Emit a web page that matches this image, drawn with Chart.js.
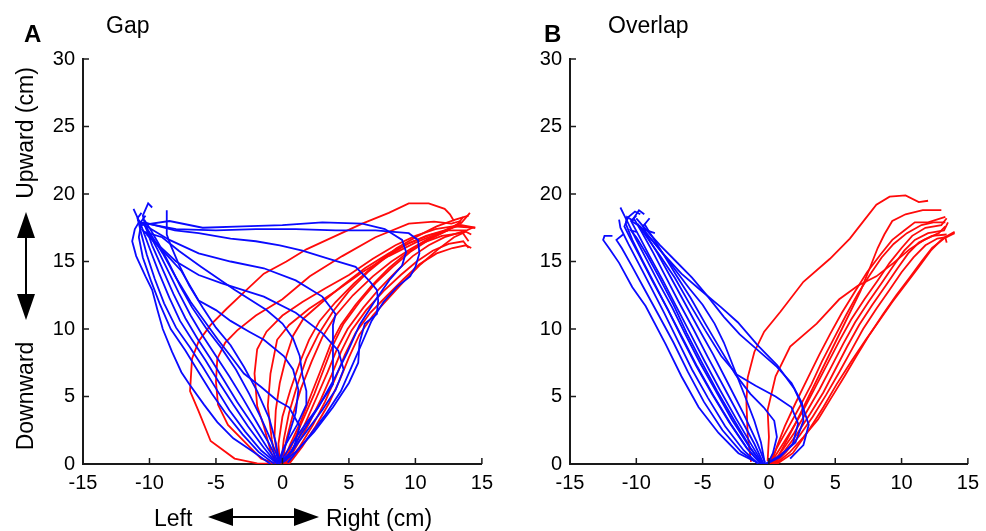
<!DOCTYPE html>
<html>
<head>
<meta charset="utf-8">
<script src="https://cdn.jsdelivr.net/npm/chart.js@4"></script>
<style>
  html, body { margin: 0; padding: 0; background: #fff; }
  #wrap { position: relative; width: 986px; height: 531px; overflow: hidden; }
  canvas { position: absolute; top: 0; }
  #gapCanvas { left: 0; }
  #overlapCanvas { left: 490px; }
  svg { position: absolute; left: 0; top: 0; pointer-events: none; }
  svg text { font-family: "Liberation Sans", Arial, sans-serif; fill: #000; }
</style>
</head>
<body>
<div id="wrap">
  <canvas id="gapCanvas" width="500" height="531"></canvas>
  <canvas id="overlapCanvas" width="496" height="531"></canvas>
  <svg width="986" height="531">
    <text x="24" y="42" font-size="24" font-weight="bold">A</text>
    <text x="106" y="33" font-size="23">Gap</text>
    <text x="544" y="42" font-size="24" font-weight="bold">B</text>
    <text x="608" y="33" font-size="23">Overlap</text>
    <text transform="translate(33,133) rotate(-90)" text-anchor="middle" font-size="23">Upward (cm)</text>
    <text transform="translate(33,396) rotate(-90)" text-anchor="middle" font-size="23">Downward</text>
    <line x1="26" y1="230" x2="26" y2="302" stroke="#000" stroke-width="2"/>
    <polygon points="26,212 17,238 35,238" fill="#000"/>
    <polygon points="26,320 17,294 35,294" fill="#000"/>
    <text x="154" y="526" font-size="23">Left</text>
    <line x1="225" y1="517" x2="303" y2="517" stroke="#000" stroke-width="2"/>
    <polygon points="208,517 233,508 233,526" fill="#000"/>
    <polygon points="319,517 294,508 294,526" fill="#000"/>
    <text x="326" y="526" font-size="23">Right (cm)</text>
  </svg>
</div>
<script>
// axis ticks
var xTickValues = [-15, -10, -5, 0, 5, 10, 15];
var yTickValues = [0, 5, 10, 15, 20, 25, 30];

// Gap condition, movements to the left target (blue)
var gapLeftTraces = [
  [[-0.9,0],[-2.2,0.9],[-3.7,1.9],[-4.9,3.1],[-5.9,4.4],[-7.0,5.9],[-7.6,6.8],[-8.3,8.3],[-9.0,10],[-9.4,11.4],[-9.8,12.9],[-10.3,13.9],[-11.0,15.4],[-11.3,16.5],[-11.1,17.4],[-10.8,17.9]],
  [[-0.6,0],[-1.8,0.9],[-3.0,2.2],[-4.3,3.8],[-5.3,5.2],[-6.3,6.8],[-7.3,8.4],[-8.4,10],[-9.2,11.8],[-9.9,13.6],[-10.5,15.3],[-10.8,16.8],[-10.6,18.0],[-10.3,18.4]],
  [[-0.5,0.1],[-1.6,1.0],[-2.8,2.4],[-4.0,4.0],[-5.0,5.6],[-6.0,7.2],[-7.0,8.7],[-8.0,10.1],[-8.9,11.9],[-9.6,13.7],[-10.2,15.5],[-10.6,17.0],[-10.9,18.2],[-10.6,18.6]],
  [[-0.4,0],[-1.4,1.2],[-2.6,2.8],[-3.7,4.4],[-4.8,6.1],[-5.8,7.7],[-6.8,9.2],[-7.7,10.6],[-8.5,12.3],[-9.3,14.2],[-10.0,16.0],[-10.6,17.6],[-11.2,18.9]],
  [[-0.3,0],[-1.2,1.3],[-2.3,3.0],[-3.4,4.6],[-4.4,6.2],[-5.4,7.8],[-6.4,9.3],[-7.3,10.8],[-8.2,12.6],[-9.0,14.4],[-9.8,16.2],[-10.3,17.6],[-10.5,18.4],[-10.1,19.3],[-9.8,19.0]],
  [[-0.3,0.1],[-1.0,1.5],[-2.0,3.2],[-3.0,4.9],[-4.0,6.5],[-5.0,8.0],[-6.0,9.5],[-6.9,11.0],[-7.8,12.7],[-8.6,14.3],[-9.4,15.9],[-10.1,17.2],[-10.5,17.9]],
  [[-0.2,0.1],[-0.8,1.6],[-1.6,3.4],[-2.5,5.2],[-3.5,7.0],[-4.6,8.6],[-5.7,10.0],[-6.8,11.6],[-7.7,13.2],[-8.5,14.8],[-9.3,16.3],[-10.0,17.5],[-10.4,18.1]],
  [[-0.2,0],[-0.5,1.6],[-1.0,3.4],[-1.9,5.4],[-2.9,7.2],[-3.9,8.8],[-5.0,10.1],[-6.0,11.6],[-7.0,13.2],[-7.8,14.8],[-8.4,16.2],[-8.7,17.0],[-8.7,18.8]],
  [[-0.2,0.1],[0.8,1.0],[1.3,2.8],[0.5,4.2],[-0.4,4.7],[-1.6,5.7],[-2.9,6.7],[-3.9,8.0],[-4.85,9.2],[-5.8,10.5],[-6.9,12.0],[-8.0,13.8],[-9.0,15.6],[-9.9,17.0],[-10.4,17.8]],
  [[0.2,0.2],[1.4,2.2],[2.7,4.2],[3.9,6.3],[4.9,8.3],[5.8,10.3],[6.9,12.0],[8.1,13.7],[9.0,14.7],[9.3,15.7],[9.0,16.6],[7.7,17.4],[6.0,17.8],[3.0,17.9],[0,17.7],[-3.0,17.6],[-6.0,17.5],[-8.5,18.0],[-10.6,17.7]],
  [[0.4,0.1],[1.8,1.8],[3.2,3.6],[4.4,5.4],[5.2,7.2],[6.0,9.0],[6.7,10.6],[7.6,12.0],[8.6,13.1],[9.6,13.9],[10.0,14.6],[10.3,15.6],[10.2,16.6],[9.5,17.1],[7.0,17.3],[4.0,17.3],[1.0,17.4],[-2.0,17.4],[-5.0,17.3],[-8.0,17.4],[-10.7,17.9]],
  [[0.0,0.1],[1.0,0.9],[2.4,2.4],[3.8,4.2],[5.0,6.0],[5.7,7.5],[5.8,9.0],[6.2,10.4],[7.1,11.1],[7.2,12.1],[7.1,12.9],[6.5,13.6],[5.5,14.6],[3.5,15.2],[1.5,15.8],[-0.2,16.2],[-2.0,16.5],[-3.9,16.7],[-6.3,17.1],[-8.1,17.3],[-10.4,17.9]],
  [[-0.2,0.1],[1.1,2.1],[2.6,4.1],[3.8,5.9],[3.8,7.5],[3.8,9.3],[3.8,10.3],[4.0,11.1],[3.0,12.4],[1.0,13.6],[-1.4,14.5],[-3.9,15.0],[-6.3,15.6],[-8.5,16.6],[-10.2,17.6],[-10.9,18.1]],
  [[-0.1,0.1],[0.6,0.8],[1.8,2.4],[3.0,4.0],[4.0,5.5],[4.6,7.0],[4.2,8.4],[3.0,9.7],[1.0,11.2],[-1.4,12.4],[-4.6,13.4],[-6.3,14.0],[-8.0,15.0],[-9.3,16.2],[-10.6,17.4]],
  [[-0.3,0.2],[0.1,1.2],[1.1,2.9],[1.8,4.4],[1.8,5.4],[1.5,6.6],[1.3,8.0],[0.8,9.3],[0.0,10.4],[-1.2,11.4],[-3.6,12.9],[-6.1,14.6],[-7.8,15.8],[-9.05,16.8],[-10.4,17.2]],
  [[-0.2,0.2],[0.3,1.6],[1.0,3.8],[1.2,5.5],[0.8,7.0],[0.1,8.0],[-1.4,9.2],[-2.5,9.8],[-3.9,10.6],[-5.0,11.4],[-6.3,12.1],[-7.6,14.3],[-9.0,15.8],[-10.2,17.0]]
];

// Gap condition, movements to the right target (red)
var gapRightTraces = [
  [[-0.5,0],[-1.9,0.05],[-3.6,0.4],[-5.4,1.7],[-6.3,3.9],[-6.95,5.4],[-6.8,7.8],[-6.3,9.1],[-5.4,10.3],[-4.2,11.5],[-2.8,12.8],[-1.4,14.1],[0.3,15.0],[1.8,15.9],[4.0,16.9],[6.0,17.8],[8.0,18.6],[9.5,19.3],[11.0,19.3],[12.2,18.9],[12.6,18.5],[12.9,18.0]],
  [[-0.4,0],[-1.6,0.4],[-2.9,1.7],[-4.1,2.9],[-4.85,4.4],[-5.0,6.1],[-4.9,7.8],[-4.3,9.0],[-3.4,9.9],[-2.0,11.0],[0,12.2],[2.06,13.9],[4.5,15.4],[7.0,16.8],[9.5,17.8],[11.4,17.95],[12.7,17.8],[13.4,18.0]],
  [[-0.5,0],[-0.9,1.0],[-1.4,2.8],[-1.9,4.3],[-2.1,6.7],[-1.9,8.5],[-1.2,9.8],[0,11.0],[1.5,12.0],[3.2,13.0],[5.0,14.0],[6.8,15.2],[8.5,16.2],[10.0,16.9],[11.5,17.4],[12.8,17.6],[14.5,17.5]],
  [[-0.5,0],[-0.8,1.8],[-1.1,4.3],[-0.9,6.7],[-0.4,9.2],[0.5,10.3],[2.0,11.5],[4.0,12.8],[6.0,14.2],[8.0,15.4],[10.0,16.4],[12.0,17.2],[13.5,17.9]],
  [[-0.3,0],[-0.6,2.0],[-0.5,4.0],[-0.2,6.0],[0.3,8.0],[0.8,9.5],[1.6,10.8],[3.0,12.0],[4.5,13.2],[6.2,14.5],[8.0,15.6],[9.6,16.4],[11.2,17.0],[12.5,17.3],[13.8,17.3]],
  [[-0.2,0],[-0.3,1.5],[0,3.5],[0.6,5.5],[1.3,7.5],[2.0,9.2],[2.8,10.6],[4.0,12.0],[5.4,13.4],[7.0,14.8],[8.6,16.0],[10.2,16.9],[11.6,17.6],[13.0,18.1],[14.0,18.4]],
  [[0,0],[0.6,1.5],[1.4,3.2],[2.1,5.0],[2.9,7.0],[3.6,8.8],[4.4,10.3],[5.5,11.8],[6.7,13.2],[8.0,14.5],[9.3,15.6],[10.6,16.4],[12.0,16.9],[13.4,17.1],[14.3,17.5]],
  [[0.1,0],[0.8,1.6],[1.6,3.4],[2.4,5.2],[3.1,7.0],[3.8,8.8],[4.6,10.4],[5.8,12.0],[7.0,13.4],[8.3,14.6],[9.6,15.7],[11.0,16.6],[12.4,17.3],[13.5,17.9],[14.1,18.6]],
  [[0.2,0],[1.0,1.5],[1.8,3.2],[2.6,5.0],[3.4,6.8],[4.1,8.5],[4.9,10.0],[6.1,11.6],[7.3,13.0],[8.6,14.3],[9.8,15.4],[11.0,16.2],[12.2,16.8],[13.5,17.2],[14.0,16.5]],
  [[0.3,0],[1.1,1.4],[2.0,3.0],[2.9,4.8],[3.7,6.6],[4.4,8.3],[5.2,9.9],[6.3,11.4],[7.6,12.8],[8.9,14.0],[10.1,15.0],[11.3,15.8],[12.5,16.3],[13.6,16.5],[14.0,16.0]],
  [[0.4,0],[1.3,1.3],[2.3,2.9],[3.2,4.6],[4.0,6.4],[4.7,8.1],[5.5,9.7],[6.6,11.2],[7.9,12.5],[9.1,13.7],[10.3,14.8],[11.6,15.6],[12.8,16.0],[13.8,16.2],[14.2,16.0]],
  [[0.5,0],[1.5,1.3],[2.5,2.8],[3.5,4.5],[4.3,6.2],[5.0,7.9],[5.8,9.6],[6.8,11.0],[8.0,12.3],[9.2,13.6],[10.4,14.8],[11.7,15.9],[12.9,16.8],[13.8,17.2],[14.2,17.0]],
  [[0,0.1],[0.3,1.8],[0.8,3.7],[1.4,5.6],[2.2,7.6],[3.0,9.4],[4.0,11.0],[5.3,12.5],[6.8,13.9],[8.2,15.0],[9.6,15.9],[11.0,16.7],[12.4,17.3],[13.2,17.8],[13.6,18.3]],
  [[-0.1,0],[0.1,1.8],[0.5,3.8],[1.1,5.8],[1.8,7.8],[2.7,9.6],[3.8,11.3],[5.0,12.8],[6.4,14.2],[7.9,15.4],[9.4,16.3],[10.8,16.9],[12.2,17.3],[13.4,17.7],[14.5,17.5]]
];

// Overlap condition, left target (blue)
var overlapLeftTraces = [
  [[-1.1,0.2],[-2.3,0.8],[-3.8,2.3],[-5.3,4.2],[-6.6,6.5],[-7.8,8.9],[-9.3,11.7],[-10.3,13.1],[-11.3,14.9],[-12.0,15.9],[-12.5,16.6],[-12.4,16.9],[-11.8,16.9]],
  [[-0.9,0.1],[-2.1,0.9],[-3.5,2.5],[-4.9,4.6],[-6.1,6.8],[-7.2,9.0],[-8.3,11.0],[-9.3,12.8],[-10.3,14.6],[-11.1,16.0],[-11.5,16.6],[-11.0,17.0]],
  [[-0.8,0],[-1.9,1.0],[-3.3,2.8],[-4.6,4.9],[-5.8,7.0],[-6.9,9.2],[-7.9,11.2],[-8.9,13.1],[-9.8,14.8],[-10.6,16.3],[-11.2,17.5],[-11.3,18.1]],
  [[-0.7,0.1],[-1.7,1.2],[-3.0,3.1],[-4.3,5.2],[-5.5,7.3],[-6.6,9.4],[-7.6,11.4],[-8.6,13.3],[-9.5,15.0],[-10.3,16.6],[-10.8,17.8],[-10.7,18.3],[-10.2,18.0]],
  [[-0.6,0.1],[-1.5,1.3],[-2.8,3.3],[-4.0,5.4],[-5.2,7.5],[-6.3,9.6],[-7.3,11.6],[-8.3,13.4],[-9.2,15.1],[-10.0,16.6],[-10.5,17.6],[-10.9,18.4],[-11.2,19.0]],
  [[-0.5,0.1],[-1.3,1.4],[-2.5,3.4],[-3.7,5.5],[-4.9,7.7],[-6.0,9.8],[-7.0,11.7],[-8.0,13.6],[-9.0,15.4],[-9.8,16.9],[-10.4,18.0],[-10.0,18.4]],
  [[-0.4,0],[-1.1,1.5],[-2.2,3.5],[-3.4,5.7],[-4.6,7.9],[-5.7,10.0],[-6.8,12.0],[-7.8,13.9],[-8.7,15.6],[-9.6,17.2],[-10.2,18.2],[-9.8,18.8],[-9.4,18.5]],
  [[-0.3,0.1],[-0.9,1.6],[-1.9,3.7],[-3.1,6.0],[-4.2,8.1],[-5.4,10.2],[-6.5,12.2],[-7.5,14.0],[-8.4,15.6],[-9.2,16.9],[-9.5,17.6],[-9.0,18.2]],
  [[-0.3,0],[-0.6,1.6],[-1.1,3.2],[-1.8,5.0],[-2.6,7.0],[-3.4,9.0],[-4.1,10.4],[-5.0,11.8],[-6.0,13.0],[-7.0,14.3],[-8.0,15.6],[-9.0,16.8],[-9.7,17.6],[-10.4,18.0]],
  [[1.6,0.4],[2.6,1.4],[3.0,2.9],[2.6,4.1],[1.9,5.6],[0.63,7.3],[-0.86,8.8],[-2.35,10.5],[-3.6,11.6],[-5.3,13.0],[-6.6,14.1],[-8.0,15.6],[-9.0,16.8],[-9.5,17.4],[-8.6,17.1]],
  [[-0.3,0],[0.8,0.6],[2.0,1.6],[2.6,3.2],[2.5,4.5],[1.7,6.0],[0.6,7.2],[-0.8,8.4],[-2.2,9.6],[-3.4,10.9],[-4.6,12.4],[-5.8,13.8],[-7.0,15.0],[-8.2,16.2],[-9.3,17.4],[-10.0,18.2]],
  [[-0.2,0],[0.8,0.5],[1.8,1.5],[2.2,3.0],[1.7,4.2],[0.5,5.0],[-1.0,5.8],[-2.4,6.6],[-3.6,8.0],[-4.8,9.9],[-6.0,11.9],[-7.1,13.8],[-8.2,15.4],[-9.2,16.8],[-9.9,17.8]],
  [[-0.1,0],[0.3,0.8],[0.6,2.0],[0.4,3.2],[-0.4,4.2],[-1.4,5.2],[-2.5,6.6],[-3.6,8.4],[-4.8,10.4],[-5.9,12.3],[-7.0,14.0],[-8.0,15.6],[-8.9,17.0],[-9.4,17.8]],
  [[-0.6,0],[-1.6,1.1],[-2.9,3.0],[-4.2,5.1],[-5.4,7.2],[-6.5,9.3],[-7.6,11.4],[-8.7,13.4],[-9.7,15.3],[-10.5,16.8],[-10.9,17.6],[-10.6,18.3],[-10.1,18.7],[-9.7,18.5]],
  [[-0.5,0],[-1.4,1.2],[-2.6,3.2],[-3.9,5.4],[-5.1,7.6],[-6.2,9.7],[-7.2,11.8],[-8.2,13.7],[-9.2,15.5],[-10.0,16.8],[-10.4,17.3],[-10.0,17.2]]
];

// Overlap condition, right target (red)
var overlapRightTraces = [
  [[-1.35,0.16],[-1.6,2.1],[-1.7,4.6],[-1.6,6.4],[-1.1,8.3],[-0.36,9.8],[0.88,11.3],[2.6,13.5],[4.6,15.2],[6.1,16.7],[7.1,17.95],[8.1,19.2],[9.1,19.8],[10.3,19.9],[11.3,19.4],[12.0,19.5]],
  [[-0.1,0.2],[0.0,2.0],[-0.1,4.0],[0.5,6.5],[1.6,8.7],[3.6,10.4],[5.3,12.2],[6.7,13.2],[8.1,13.9],[9.4,14.9],[10.6,15.9],[11.7,16.6],[12.8,17.1],[13.3,17.6]],
  [[0.4,0],[1.1,1.3],[2.0,3.0],[3.0,5.0],[4.0,7.0],[5.0,9.0],[6.0,11.0],[6.9,12.8],[7.6,14.5],[8.2,16.0],[8.7,17.0],[9.3,18.0],[10.3,18.5],[11.6,18.8],[13.0,18.8]],
  [[0,0],[0.6,1.2],[1.4,2.6],[2.3,4.2],[3.2,5.9],[4.0,7.6],[4.9,9.3],[5.8,11.0],[6.7,12.6],[7.6,14.0],[8.5,15.3],[9.4,16.3],[10.4,17.1],[11.5,17.7],[12.4,17.9],[13.3,17.9]],
  [[0.1,0],[0.8,1.1],[1.7,2.5],[2.6,4.0],[3.5,5.7],[4.4,7.4],[5.3,9.1],[6.2,10.7],[7.2,12.2],[8.2,13.6],[9.1,14.9],[10.0,16.0],[10.8,16.9],[11.8,17.5],[13.0,17.7],[13.4,18.2]],
  [[0.2,0],[1.0,1.0],[1.9,2.3],[2.8,3.8],[3.8,5.5],[4.7,7.2],[5.6,8.9],[6.5,10.5],[7.5,12.0],[8.5,13.4],[9.4,14.7],[10.2,15.8],[11.0,16.6],[12.0,17.1],[13.2,17.3],[13.5,17.9]],
  [[0.3,0],[1.2,1.0],[2.1,2.2],[3.1,3.7],[4.1,5.3],[5.0,7.0],[5.9,8.7],[6.8,10.3],[7.8,11.8],[8.8,13.2],[9.7,14.5],[10.5,15.6],[11.3,16.4],[12.3,16.9],[13.4,17.0]],
  [[0.4,0],[1.3,0.9],[2.3,2.1],[3.3,3.5],[4.3,5.1],[5.3,6.8],[6.2,8.4],[7.1,10.0],[8.1,11.5],[9.1,12.9],[10.0,14.2],[10.9,15.3],[11.8,16.2],[12.7,16.7],[13.3,16.8],[13.4,16.4]],
  [[0.5,0],[1.6,0.9],[2.6,2.0],[3.7,3.3],[4.7,4.9],[5.7,6.5],[6.6,8.0],[7.6,9.6],[8.6,11.1],[9.6,12.5],[10.6,13.8],[11.5,15.0],[12.3,16.0],[13.2,16.7],[14.0,17.1]],
  [[0.6,0],[1.8,0.8],[3.0,2.5],[4.1,4.2],[5.1,5.9],[6.2,7.6],[7.3,9.2],[8.3,10.6],[9.3,12.0],[10.3,13.3],[11.3,14.6],[12.2,15.8],[13.1,16.7],[14.0,17.2]],
  [[0.2,0.1],[0.6,1.3],[1.2,2.8],[2.0,4.5],[2.9,6.3],[3.8,8.1],[4.6,9.6],[5.5,11.2],[6.5,12.8],[7.4,14.2],[8.4,15.5],[9.3,16.6],[10.2,17.3],[11.0,17.9],[12.0,17.9],[13.3,18.3]]
];

var axisColor = '#1a1a1a';

// ticks drawn inside the plot, like the original figure
var innerTicks = {
  id: 'innerTicks',
  afterDraw: function(chart){
    var ctx = chart.ctx, area = chart.chartArea;
    var xs = chart.scales.x, ys = chart.scales.y;
    ctx.save();
    ctx.strokeStyle = axisColor;
    ctx.lineWidth = 1.5;
    xTickValues.forEach(function(v){
      var px = xs.getPixelForValue(v);
      ctx.beginPath(); ctx.moveTo(px, area.bottom); ctx.lineTo(px, area.bottom - 6); ctx.stroke();
    });
    yTickValues.forEach(function(v){
      var py = ys.getPixelForValue(v);
      ctx.beginPath(); ctx.moveTo(area.left, py); ctx.lineTo(area.left + 6, py); ctx.stroke();
    });
    ctx.restore();
  }
};

function makeDatasets(traces, color){
  return traces.map(function(tr){
    return {
      data: tr.map(function(p){ return {x: p[0], y: p[1]}; }),
      showLine: true,
      borderColor: color,
      backgroundColor: color,
      borderWidth: 1.8,
      pointRadius: 0,
      tension: 0,
      fill: false
    };
  });
}

function buildPanel(el, leftTraces, rightTraces, pad){
  var tickFont = {family: '"Liberation Sans", Arial, sans-serif', size: 20};
  new Chart(document.getElementById(el), {
    type: 'scatter',
    data: { datasets: makeDatasets(leftTraces, '#0a0aff').concat(makeDatasets(rightTraces, '#ff0a0a')) },
    options: {
      responsive: false,
      animation: false,
      events: [],
      layout: { padding: pad },
      plugins: { legend: {display: false}, tooltip: {enabled: false} },
      scales: {
        x: {
          type: 'linear', min: -15, max: 15,
          afterBuildTicks: function(s){ s.ticks = xTickValues.map(function(v){ return {value: v}; }); },
          afterFit: function(s){ s.height = 30; },
          grid: {display: false, drawTicks: false},
          border: {display: true, color: axisColor, width: 2},
          ticks: {color: '#000', font: tickFont, padding: 7, maxRotation: 0, autoSkip: false}
        },
        y: {
          type: 'linear', min: 0, max: 30,
          afterBuildTicks: function(s){ s.ticks = yTickValues.map(function(v){ return {value: v}; }); },
          afterFit: function(s){ s.width = 40; },
          grid: {display: false, drawTicks: false},
          border: {display: true, color: axisColor, width: 2},
          ticks: {color: '#000', font: tickFont, padding: 8, autoSkip: false}
        }
      }
    },
    plugins: [innerTicks]
  });
}

buildPanel('gapCanvas', gapLeftTraces, gapRightTraces, {left: 43, right: 12, top: 59, bottom: 37});
buildPanel('overlapCanvas', overlapLeftTraces, overlapRightTraces, {left: 40, right: 13, top: 59, bottom: 37});
</script>
</body>
</html>
